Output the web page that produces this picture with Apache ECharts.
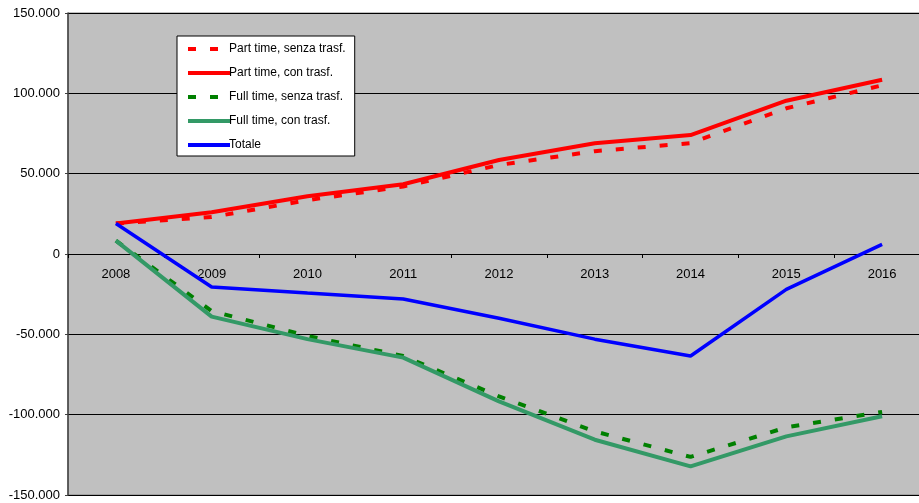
<!DOCTYPE html>
<html>
<head>
<meta charset="utf-8">
<script src="https://cdn.jsdelivr.net/npm/echarts@6/dist/echarts.min.js"></script>
<style>
html,body{margin:0;padding:0;background:#fff;}
#c{width:919px;height:503px;}
</style>
</head>
<body>
<div id="c"></div>
<script>
const categories = ['2008','2009','2010','2011','2012','2013','2014','2015','2016'];
const partTimeSenza = [19000, 23000, 33500, 42000, 55400, 64000, 69000, 90700, 105000];
const partTimeCon   = [19000, 26000, 36000, 43400, 58500, 68900, 74000, 95400, 108500];
const fullTimeSenza = [8300, -35500, -51000, -63500, -88600, -110400, -126300, -107900, -98300];
const fullTimeCon   = [8300, -39000, -53000, -64500, -91700, -115600, -132200, -113500, -101000];
const totale        = [19000, -20500, -24300, -28000, -40000, -53000, -63500, -22000, 6000];
const seriesNames = ['Part time, senza trasf.', 'Part time, con trasf.', 'Full time, senza trasf.', 'Full time, con trasf.', 'Totale'];

const FONT = "'Liberation Sans', Arial, sans-serif";
function fmt(v){
  const s = Math.abs(v).toString().replace(/\B(?=(\d{3})+(?!\d))/g, '.');
  return (v < 0 ? '-' : '') + s;
}
const chart = echarts.init(document.getElementById('c'), null, {renderer:'canvas'});
function line(name, data, color, type, width){
  return {
    name: name, type: 'line', data: data, symbol: 'none',
    xAxisIndex: 0, yAxisIndex: 0,
    lineStyle: {color: color, width: width, type: type, cap: 'butt'},
    itemStyle: {color: color},
    emphasis: {disabled: true}, animation: false
  };
}
chart.setOption({
  animation: false,
  backgroundColor: '#ffffff',
  grid: {left: 68, top: 13, width: 862, height: 482, outerBoundsMode: 'none', containLabel: false,
         show: true, backgroundColor: '#C0C0C0', borderColor: '#808080', borderWidth: 1},
  legend: {
    orient: 'vertical', left: 177, top: 36,
    itemWidth: 42, itemHeight: 14, itemGap: 12,
    padding: [7, 9, 5, 9],
    backgroundColor: '#ffffff', borderColor: '#000000', borderWidth: 1, borderRadius: 0,
    itemStyle: {opacity: 0},
    lineStyle: {width: 4},
    textStyle: {fontFamily: FONT, fontSize: 12, color: '#000', padding: [0,0,0,-6]},
    data: seriesNames
  },
  xAxis: [{
    type: 'category', data: categories, boundaryGap: true,
    axisLine: {onZero: true, lineStyle: {color: '#000', width: 1}},
    axisTick: {show: true, length: 4, lineStyle: {color: '#000'}},
    axisLabel: {show: false},
    splitLine: {show: false}
  }, {
    type: 'category', data: categories, boundaryGap: true, position: 'bottom', offset: -241,
    axisLine: {show: false, onZero: false},
    axisTick: {show: false},
    axisLabel: {fontFamily: FONT, fontSize: 13, color: '#000', margin: 14, interval: 0},
    splitLine: {show: false}
  }],
  yAxis: {
    type: 'value', min: -150000, max: 150000, interval: 50000,
    axisLine: {show: true, lineStyle: {color: '#404040', width: 1.5}},
    axisTick: {show: true, length: 3, lineStyle: {color: '#404040'}},
    axisLabel: {fontFamily: FONT, fontSize: 13, color: '#000', margin: 8, formatter: fmt},
    splitLine: {show: true, lineStyle: {color: '#000', width: 1}}
  },
  series: [
    line(seriesNames[0], partTimeSenza, '#FF0000', [8,14], 4),
    line(seriesNames[1], partTimeCon, '#FF0000', 'solid', 4),
    line(seriesNames[2], fullTimeSenza, '#008000', [8,14], 4),
    line(seriesNames[3], fullTimeCon, '#339966', 'solid', 4),
    line(seriesNames[4], totale, '#0000FF', 'solid', 3.5)
  ]
});
</script>
</body>
</html>
